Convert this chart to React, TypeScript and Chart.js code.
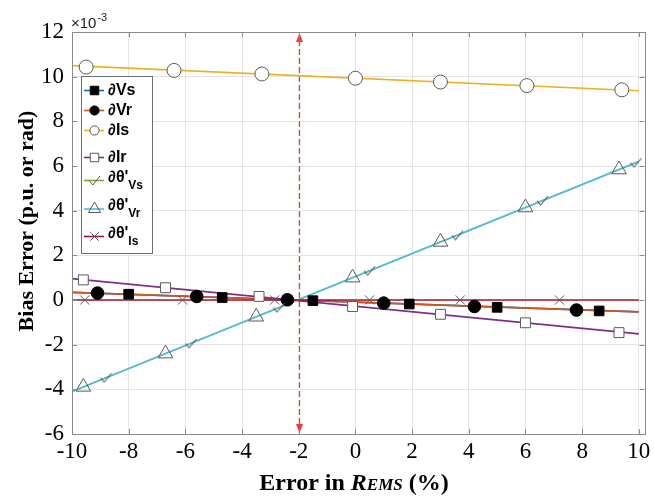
import React, { useEffect, useRef } from 'react';
import { Chart, registerables } from 'chart.js';

Chart.register(...registerables);

// ---------- axes ----------
const X_MIN = -10;
const X_MAX = 10.2;
const Y_MIN = -6;
const Y_MAX = 12;
const X_TICKS = [-10, -8, -6, -4, -2, 0, 2, 4, 6, 8, 10];
const Y_TICKS = [-6, -4, -2, 0, 2, 4, 6, 8, 10, 12];
const REF_X = -2; // red dashed reference line

// ---------- series (values in units of 1e-3) ----------
const LINE_X = [-10, 10];

const VS_LINE = [0.34, -0.53];
const VS_X = [-8.0, -4.7, -1.5, 1.9, 5.0, 8.6];
const VS_Y = [0.26, 0.11, -0.03, -0.18, -0.33, -0.49];

const VR_LINE = [0.34, -0.53];
const VR_X = [-9.1, -5.6, -2.4, 1.0, 4.2, 7.8];
const VR_Y = [0.31, 0.16, 0.01, -0.14, -0.29, -0.45];

const IS_LINE = [10.49, 9.37];
const IS_X = [-9.5, -6.4, -3.3, 0.0, 3.0, 6.05, 9.4];
const IS_Y = [10.43, 10.28, 10.12, 9.93, 9.76, 9.6, 9.41];

const IR_LINE = [0.96, -1.52];
const IR_X = [-9.6, -6.7, -3.4, -0.1, 3.0, 6.0, 9.3];
const IR_Y = [0.9, 0.55, 0.16, -0.29, -0.64, -1.02, -1.46];

const TVS_LINE = [-4.1, 6.2];
const TVS_X = [-8.8, -5.8, -2.7, 0.5, 3.6, 6.6, 9.9];
const TVS_Y = [-3.48, -1.94, -0.34, 1.31, 2.9, 4.45, 6.15];

const TVR_LINE = [-4.1, 6.2];
const TVR_X = [-9.6, -6.7, -3.5, -0.1, 3.0, 6.0, 9.3];
const TVR_Y = [-3.89, -2.4, -0.75, 1.0, 2.6, 4.14, 5.84];

const TIS_LINE = [0, 0];
const TIS_X = [-9.55, -6.1, -2.85, 0.5, 3.7, 7.2];
const TIS_Y = [0, 0, 0, 0, 0, 0];

const LEGEND_MAIN = ['∂Vs', '∂Vr', '∂Is', '∂Ir', "∂θ'", "∂θ'", "∂θ'"];
const LEGEND_SUB = ['', '', '', '', 'Vs', 'Vr', 'Is'];

const MARK_GRAY = '#5a5a5a';

type Series = {
  line: number[];
  xs: number[];
  ys: number[];
  color: string;
  marker: string;
  fill: string;
  stroke: string;
  radius: number;
};

const SERIES: Series[] = [
  { line: VS_LINE, xs: VS_X, ys: VS_Y, color: '#0072BD', marker: 'rect', fill: '#000', stroke: '#000', radius: 6.8 },
  { line: VR_LINE, xs: VR_X, ys: VR_Y, color: '#D95319', marker: 'circle', fill: '#000', stroke: '#000', radius: 6.3 },
  { line: IS_LINE, xs: IS_X, ys: IS_Y, color: '#EDB120', marker: 'circle', fill: '#fff', stroke: MARK_GRAY, radius: 7 },
  { line: IR_LINE, xs: IR_X, ys: IR_Y, color: '#7E2F8E', marker: 'rect', fill: '#fff', stroke: MARK_GRAY, radius: 7 },
  { line: TVS_LINE, xs: TVS_X, ys: TVS_Y, color: '#77AC30', marker: 'check', fill: 'rgba(0,0,0,0)', stroke: MARK_GRAY, radius: 7 },
  { line: TVR_LINE, xs: TVR_X, ys: TVR_Y, color: '#4DBEEE', marker: 'triangle', fill: 'rgba(255,255,255,0)', stroke: MARK_GRAY, radius: 8.5 },
  { line: TIS_LINE, xs: TIS_X, ys: TIS_Y, color: '#A2142F', marker: 'crossRot', fill: 'rgba(0,0,0,0)', stroke: MARK_GRAY, radius: 6.5 },
];

function makeCheck(w: number, h: number, color: string): HTMLCanvasElement {
  const c = document.createElement('canvas');
  c.width = w;
  c.height = h;
  const g = c.getContext('2d')!;
  g.strokeStyle = color;
  g.lineWidth = 1.1;
  g.beginPath();
  g.moveTo(1, h * 0.5);
  g.lineTo(w * 0.35, h - 1);
  g.lineTo(w - 1, 1);
  g.stroke();
  return c;
}

function drawMarker(ctx: CanvasRenderingContext2D, s: Series, x: number, y: number, r: number) {
  ctx.save();
  ctx.fillStyle = s.fill;
  ctx.strokeStyle = s.stroke;
  ctx.lineWidth = 1;
  ctx.beginPath();
  if (s.marker === 'rect') {
    const h = r * Math.SQRT1_2;
    ctx.rect(x - h, y - h, 2 * h, 2 * h);
    ctx.fill();
    ctx.stroke();
  } else if (s.marker === 'circle') {
    ctx.arc(x, y, r, 0, Math.PI * 2);
    ctx.fill();
    ctx.stroke();
  } else if (s.marker === 'triangle') {
    ctx.moveTo(x, y - r);
    ctx.lineTo(x + r * 0.866, y + r * 0.5);
    ctx.lineTo(x - r * 0.866, y + r * 0.5);
    ctx.closePath();
    ctx.fill();
    ctx.stroke();
  } else if (s.marker === 'crossRot') {
    const d = r * 0.707;
    ctx.moveTo(x - d, y - d);
    ctx.lineTo(x + d, y + d);
    ctx.moveTo(x + d, y - d);
    ctx.lineTo(x - d, y + d);
    ctx.stroke();
  } else if (s.marker === 'check') {
    const w = r * 1.8;
    const h = r * 1.5;
    ctx.moveTo(x - w / 2, y);
    ctx.lineTo(x - w / 2 + w * 0.35, y + h / 2);
    ctx.lineTo(x + w / 2, y - h / 2);
    ctx.stroke();
  }
  ctx.restore();
}

const overlayPlugin = {
  id: 'overlay',
  beforeDatasetsDraw(chart: any) {
    const { ctx, scales } = chart;
    const xs = scales.x;
    const ys = scales.y;
    const px = Math.round(xs.getPixelForValue(REF_X)) + 0.5;
    const top = ys.getPixelForValue(Y_MAX);
    const bot = ys.getPixelForValue(Y_MIN);
    const red = '#f23a3a';
    ctx.save();
    ctx.strokeStyle = '#ffffff';
    ctx.lineWidth = 2;
    ctx.beginPath();
    ctx.moveTo(px, top + 1);
    ctx.lineTo(px, bot - 1);
    ctx.stroke();
    ctx.strokeStyle = red;
    ctx.lineWidth = 1.3;
    ctx.setLineDash([6, 3]);
    ctx.beginPath();
    ctx.moveTo(px, top + 8);
    ctx.lineTo(px, bot - 8);
    ctx.stroke();
    ctx.setLineDash([]);
    ctx.fillStyle = red;
    ctx.beginPath();
    ctx.moveTo(px, top + 1);
    ctx.lineTo(px - 3.5, top + 10);
    ctx.lineTo(px + 3.5, top + 10);
    ctx.closePath();
    ctx.fill();
    ctx.beginPath();
    ctx.moveTo(px, bot - 1);
    ctx.lineTo(px - 3.5, bot - 10);
    ctx.lineTo(px + 3.5, bot - 10);
    ctx.closePath();
    ctx.fill();
    ctx.restore();
  },
  afterDatasetsDraw(chart: any) {
    const { ctx, chartArea: a, scales } = chart;
    const xs = scales.x;
    const ys = scales.y;
    ctx.save();
    ctx.strokeStyle = '#8a8a8a';
    ctx.lineWidth = 1;
    ctx.strokeRect(Math.round(a.left) + 0.5, Math.round(a.top) + 0.5, Math.round(a.right - a.left), Math.round(a.bottom - a.top));
    const tl = 5;
    ctx.beginPath();
    X_TICKS.forEach((v) => {
      const p = Math.round(xs.getPixelForValue(v)) + 0.5;
      ctx.moveTo(p, a.bottom);
      ctx.lineTo(p, a.bottom - tl);
      ctx.moveTo(p, a.top);
      ctx.lineTo(p, a.top + tl);
    });
    Y_TICKS.forEach((v) => {
      const p = Math.round(ys.getPixelForValue(v)) + 0.5;
      ctx.moveTo(a.left, p);
      ctx.lineTo(a.left + tl, p);
      ctx.moveTo(a.right, p);
      ctx.lineTo(a.right - tl, p);
    });
    ctx.stroke();
    ctx.restore();
  },
  afterDraw(chart: any) {
    const { ctx, chartArea: a } = chart;
    ctx.save();
    // ---- legend ----
    const bx = 81, by = 76, bw = 71, bh = 177;
    ctx.fillStyle = '#fff';
    ctx.fillRect(bx, by, bw, bh);
    ctx.strokeStyle = '#6e6e6e';
    ctx.lineWidth = 1;
    ctx.strokeRect(bx + 0.5, by + 0.5, bw, bh);
    const rows = [90.5, 110.5, 130.5, 157.5, 180.5, 209, 236.5];
    SERIES.forEach((s, i) => {
      const ry = rows[i];
      ctx.strokeStyle = s.color;
      ctx.lineWidth = 1.6;
      ctx.beginPath();
      ctx.moveTo(84, ry);
      ctx.lineTo(104, ry);
      ctx.stroke();
      const lr = s.marker === 'triangle' ? 7 : s.marker === 'check' ? 6 : s.marker === 'crossRot' ? 6 : s.marker === 'rect' ? 6 : 4.6;
      drawMarker(ctx, s, 94.5, ry, lr);
      ctx.fillStyle = '#000';
      ctx.textBaseline = 'middle';
      ctx.textAlign = 'left';
      ctx.font = 'bold 16px "Liberation Sans", Arial, sans-serif';
      if (LEGEND_SUB[i]) {
        ctx.fillText(LEGEND_MAIN[i], 108, ry - 3);
        const w = ctx.measureText(LEGEND_MAIN[i]).width;
        ctx.font = 'bold 12px "Liberation Sans", Arial, sans-serif';
        ctx.fillText(LEGEND_SUB[i], 108 + w, ry + 5);
      } else {
        ctx.fillText(LEGEND_MAIN[i], 108, ry);
      }
    });
    // ---- exponent ----
    ctx.fillStyle = '#222';
    ctx.textBaseline = 'alphabetic';
    ctx.textAlign = 'left';
    ctx.font = '15px "Liberation Sans", Arial, sans-serif';
    ctx.fillText('×10', a.left - 1, 28);
    const ew = ctx.measureText('×10').width;
    ctx.font = '11px "Liberation Sans", Arial, sans-serif';
    ctx.fillText('-3', a.left - 1 + ew + 1, 20.5);
    // ---- y title ----
    ctx.fillStyle = '#000';
    ctx.save();
    ctx.translate(27, 221);
    ctx.rotate(-Math.PI / 2);
    ctx.textAlign = 'center';
    ctx.textBaseline = 'middle';
    ctx.font = 'bold 22px "Liberation Serif", "Times New Roman", serif';
    ctx.fillText('Bias Error (p.u. or rad)', 0, 0);
    ctx.restore();
    // ---- x title ----
    const parts = [
      { t: 'Error in ', f: 'bold 24px "Liberation Serif", "Times New Roman", serif' },
      { t: 'R', f: 'italic bold 24px "Liberation Serif", "Times New Roman", serif' },
      { t: 'EMS', f: 'italic bold 17px "Liberation Serif", "Times New Roman", serif' },
      { t: ' (%)', f: 'bold 24px "Liberation Serif", "Times New Roman", serif' },
    ];
    let total = 0;
    parts.forEach((p) => {
      ctx.font = p.f;
      total += ctx.measureText(p.t).width;
    });
    let cx = 354 - total / 2;
    ctx.textAlign = 'left';
    ctx.textBaseline = 'alphabetic';
    parts.forEach((p) => {
      ctx.font = p.f;
      ctx.fillText(p.t, cx, 490);
      cx += ctx.measureText(p.t).width;
    });
    ctx.restore();
  },
};

export default function App() {
  const ref = useRef<HTMLCanvasElement>(null);
  useEffect(() => {
    const check = makeCheck(13, 11, MARK_GRAY);
    const datasets: any[] = [];
    SERIES.forEach((s, i) => {
      datasets.push({
        label: 'line' + i,
        data: LINE_X.map((x, k) => ({ x, y: s.line[k] })),
        showLine: true,
        borderColor: s.color,
        borderWidth: 1.7,
        pointRadius: 0,
        pointHoverRadius: 0,
        order: 20 - i,
      });
      datasets.push({
        label: 'mark' + i,
        data: s.xs.map((x, k) => ({ x, y: s.ys[k] })),
        showLine: false,
        pointStyle: s.marker === 'check' ? check : s.marker,
        pointRadius: s.radius,
        pointHoverRadius: s.radius,
        pointBackgroundColor: s.fill,
        pointBorderColor: s.stroke,
        pointBorderWidth: 1,
        clip: false,
        order: 10 - i,
      });
    });
    const tickFont = { family: '"Liberation Serif", "Times New Roman", serif', size: 23 };
    const chart = new Chart(ref.current!, {
      type: 'scatter',
      data: { datasets },
      options: {
        responsive: false,
        animation: false,
        devicePixelRatio: 1,
        events: [],
        layout: { padding: { top: 32, right: 5, left: 0, bottom: 0 } },
        plugins: { legend: { display: false }, tooltip: { enabled: false }, title: { display: false } },
        scales: {
          x: {
            type: 'linear',
            min: X_MIN,
            max: X_MAX,
            afterBuildTicks: (s: any) => {
              s.ticks = X_TICKS.map((v) => ({ value: v }));
            },
            afterFit: (s: any) => {
              s.height = 67;
              s.paddingLeft = 0;
              s.paddingRight = 0;
            },
            grid: { color: '#e4e4e4', lineWidth: 1, drawTicks: false },
            border: { display: false },
            ticks: { font: tickFont, color: '#000', padding: 4, maxRotation: 0, autoSkip: false, callback: (v: any) => String(v) },
          },
          y: {
            type: 'linear',
            min: Y_MIN,
            max: Y_MAX,
            afterBuildTicks: (s: any) => {
              s.ticks = Y_TICKS.map((v) => ({ value: v }));
            },
            afterFit: (s: any) => {
              s.width = 72;
              s.paddingTop = 0;
              s.paddingBottom = 0;
            },
            grid: { color: '#e4e4e4', lineWidth: 1, drawTicks: false },
            border: { display: false },
            ticks: { font: tickFont, color: '#000', padding: 8, autoSkip: false, callback: (v: any) => String(v) },
          },
        },
      },
      plugins: [overlayPlugin],
    } as any);
    return () => chart.destroy();
  }, []);
  return (
    <div style={{ position: 'fixed', left: 0, top: 0, width: 654, height: 501, background: '#fff' }}>
      <canvas ref={ref} width={654} height={501} style={{ display: 'block', width: 654, height: 501 }} />
    </div>
  );
}
